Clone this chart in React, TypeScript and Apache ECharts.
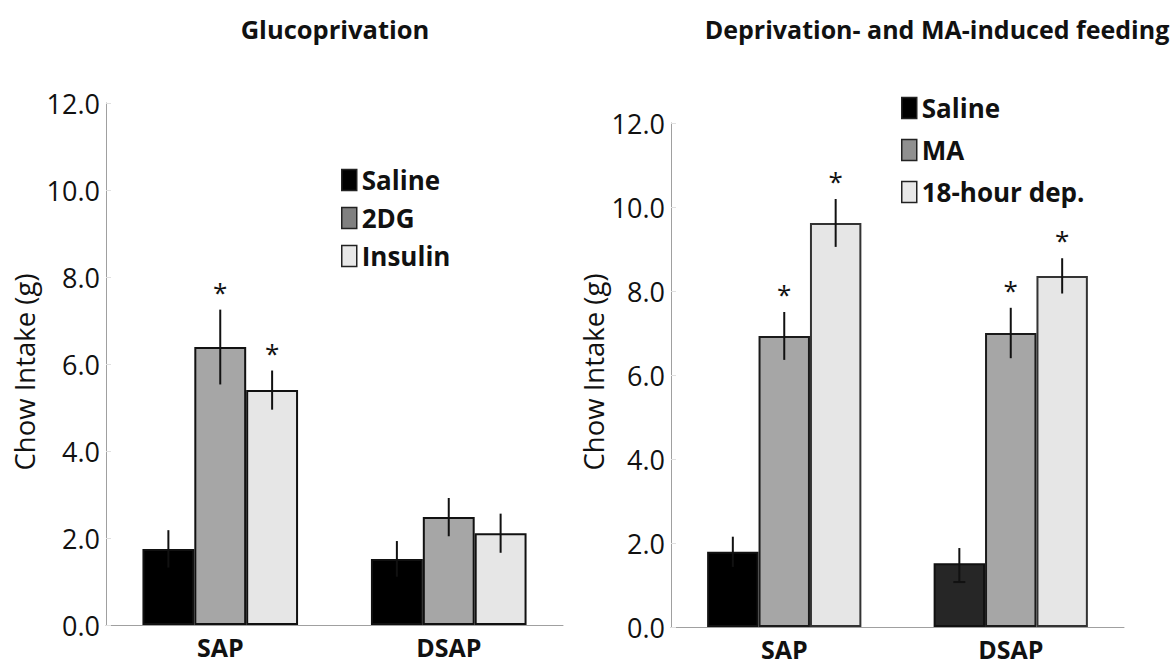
import React, { useEffect, useRef } from "react";
import * as echarts from "echarts";

const categories = ["SAP", "DSAP"];
const yTicks = [0, 2, 4, 6, 8, 10, 12];

// Left panel: Glucoprivation
const leftNames = ["Saline", "2DG", "Insulin"];
const leftSaline = [1.75, 1.52];
const left2DG = [6.39, 2.48];
const leftInsulin = [5.4, 2.11];
const leftSalineErr = [0.43, 0.41];
const left2DGErr = [0.86, 0.44];
const leftInsulinErr = [0.45, 0.45];
const left2DGSig = [true, false];
const leftInsulinSig = [true, false];

// Right panel: Deprivation- and MA-induced feeding
const rightNames = ["Saline", "MA", "18-hour dep."];
const rightSaline = [1.79, 1.52];
const rightMA = [6.93, 7.0];
const rightDep = [9.62, 8.36];
const rightSalineErrUp = [0.36, 0.36];
const rightSalineErrDown = [0.36, 0.45];
const rightMAErr = [0.57, 0.6];
const rightDepErr = [0.57, 0.42];
const rightMASig = [true, true];
const rightDepSig = [true, true];

const FONT = "Open Sans";
const BW = 0.227;

function errSeries(grid: number, offset: number, vals: number[], up: number[], down: number[], sig: boolean[], cap: boolean[]) {
  return {
    type: "custom",
    xAxisIndex: grid,
    yAxisIndex: grid,
    z: 10,
    silent: true,
    data: vals.map((v, i) => [i, v, down[i], up[i], sig[i] ? 1 : 0, cap[i] ? 1 : 0]),
    renderItem: (params: any, api: any) => {
      const ci = api.value(0);
      const v = api.value(1);
      const lo = api.value(2);
      const hi = api.value(3);
      const band = api.size([1, 0])[0];
      const x = api.coord([ci, v])[0] + offset * band * BW;
      const yTop = api.coord([ci, v + hi])[1];
      const yBot = api.coord([ci, v - lo])[1];
      const children: any[] = [
        { type: "line", shape: { x1: x, y1: yTop, x2: x, y2: yBot }, style: { stroke: "#111", lineWidth: 2 } },
      ];
      if (api.value(5)) {
        children.push({ type: "line", shape: { x1: x - 6, y1: yBot, x2: x + 6, y2: yBot }, style: { stroke: "#111", lineWidth: 2 } });
      }
      if (api.value(4)) {
        children.push({
          type: "text",
          x,
          y: yTop - 5,
          style: { text: "*", fontSize: 26, fontFamily: FONT, fill: "#111", textAlign: "center", textVerticalAlign: "bottom" },
        });
      }
      return { type: "group", children };
    },
  };
}

function barSeries(grid: number, name: string, vals: number[], color: string, border: string, overrides?: (string | null)[]) {
  return {
    type: "bar",
    name,
    xAxisIndex: grid,
    yAxisIndex: grid,
    barWidth: BW * 100 + "%",
    barGap: "0%",
    data: vals.map((v, i) =>
      overrides && overrides[i] ? { value: v, itemStyle: { color: overrides[i] as string } } : v
    ),
    itemStyle: { color, borderColor: border, borderWidth: 2 },
  };
}

export default function App() {
  const ref = useRef<HTMLDivElement>(null);
  useEffect(() => {
    document.body.style.margin = "0";
    const chart = echarts.init(ref.current!, null, { renderer: "svg" });
    const yAxisCommon = {
      type: "value",
      min: 0,
      max: 12,
      interval: 2,
      axisLine: { show: true, lineStyle: { color: "#a0a0a0", width: 1 } },
      axisTick: { show: true, inside: true, length: 5, lineStyle: { color: "#e0e0e0" } },
      splitLine: { show: false },
      axisLabel: {
        formatter: (v: number) => v.toFixed(1),
        fontFamily: FONT,
        fontSize: 27,
        color: "#111",
        margin: 6,
        customValues: yTicks,
      },
    };
    const xAxisCommon = {
      type: "category",
      data: categories,
      axisLine: { show: true, lineStyle: { color: "#a0a0a0", width: 1 } },
      axisTick: { show: false },
      axisLabel: { fontFamily: FONT, fontSize: 25, fontWeight: "bold", color: "#111", margin: 9 },
    };
    const legendText = { fontFamily: FONT, fontSize: 26, fontWeight: "bold", color: "#111", lineHeight: 28 };
    const option: any = {
      animation: false,
      backgroundColor: "#fff",
      title: [
        {
          text: "Glucoprivation",
          left: 330,
          top: 11,
          textAlign: "center",
          textStyle: { fontFamily: FONT, fontSize: 25.5, fontWeight: "bold", color: "#111" },
        },
        {
          text: "Deprivation- and MA-induced feeding",
          left: 932,
          top: 11,
          textAlign: "center",
          textStyle: { fontFamily: FONT, fontSize: 25, fontWeight: "bold", color: "#111" },
        },
      ],
      grid: [
        { left: 106, top: 103, width: 457, height: 522, containLabel: false },
        { left: 671, top: 123, width: 453, height: 504, containLabel: false },
      ],
      xAxis: [
        { ...xAxisCommon, gridIndex: 0 },
        { ...xAxisCommon, gridIndex: 1 },
      ],
      yAxis: [
        { ...yAxisCommon, gridIndex: 0 },
        { ...yAxisCommon, gridIndex: 1 },
      ],
      legend: [
        {
          orient: "vertical",
          left: 336,
          top: 161,
          itemWidth: 15,
          itemHeight: 21,
          itemGap: 10,
          icon: "rect",
          selectedMode: false,
          textStyle: legendText,
          data: [
            { name: leftNames[0], itemStyle: { color: "#000", borderColor: "#222", borderWidth: 1.5 } },
            { name: leftNames[1], itemStyle: { color: "#808080", borderColor: "#222", borderWidth: 1.5 } },
            { name: leftNames[2], itemStyle: { color: "#e8e8e8", borderColor: "#222", borderWidth: 1.5 } },
          ],
        },
        {
          orient: "vertical",
          left: 896,
          top: 89,
          itemWidth: 15,
          itemHeight: 21,
          itemGap: 14,
          icon: "rect",
          selectedMode: false,
          textStyle: legendText,
          data: [
            { name: rightNames[0], itemStyle: { color: "#000", borderColor: "#222", borderWidth: 1.5 } },
            { name: rightNames[1], itemStyle: { color: "#909090", borderColor: "#222", borderWidth: 1.5 } },
            { name: rightNames[2], itemStyle: { color: "#e8e8e8", borderColor: "#222", borderWidth: 1.5 } },
          ],
        },
      ],
      graphic: [
        {
          type: "text",
          x: 24,
          y: 372,
          rotation: Math.PI / 2,
          style: { text: "Chow Intake (g)", fontFamily: FONT, fontSize: 27.5, fill: "#111", textAlign: "center", textVerticalAlign: "middle" },
        },
        {
          type: "text",
          x: 593,
          y: 372,
          rotation: Math.PI / 2,
          style: { text: "Chow Intake (g)", fontFamily: FONT, fontSize: 27.5, fill: "#111", textAlign: "center", textVerticalAlign: "middle" },
        },
      ],
      series: [
        barSeries(0, leftNames[0], leftSaline, "#000", "#111"),
        barSeries(0, leftNames[1], left2DG, "#a6a6a6", "#111"),
        barSeries(0, leftNames[2], leftInsulin, "#e6e6e6", "#111"),
        errSeries(0, -1, leftSaline, leftSalineErr, leftSalineErr, [false, false], [false, false]),
        errSeries(0, 0, left2DG, left2DGErr, left2DGErr, left2DGSig, [false, false]),
        errSeries(0, 1, leftInsulin, leftInsulinErr, leftInsulinErr, leftInsulinSig, [false, false]),
        barSeries(1, rightNames[0], rightSaline, "#000", "#111", [null, "#262626"]),
        barSeries(1, rightNames[1], rightMA, "#a6a6a6", "#1a1a1a"),
        barSeries(1, rightNames[2], rightDep, "#e6e6e6", "#333"),
        errSeries(1, -1, rightSaline, rightSalineErrUp, rightSalineErrDown, [false, false], [false, true]),
        errSeries(1, 0, rightMA, rightMAErr, rightMAErr, rightMASig, [false, false]),
        errSeries(1, 1, rightDep, rightDepErr, rightDepErr, rightDepSig, [false, false]),
      ],
    };
    chart.setOption(option);
    return () => chart.dispose();
  }, []);
  return <div ref={ref} style={{ width: 1175, height: 667 }} />;
}
